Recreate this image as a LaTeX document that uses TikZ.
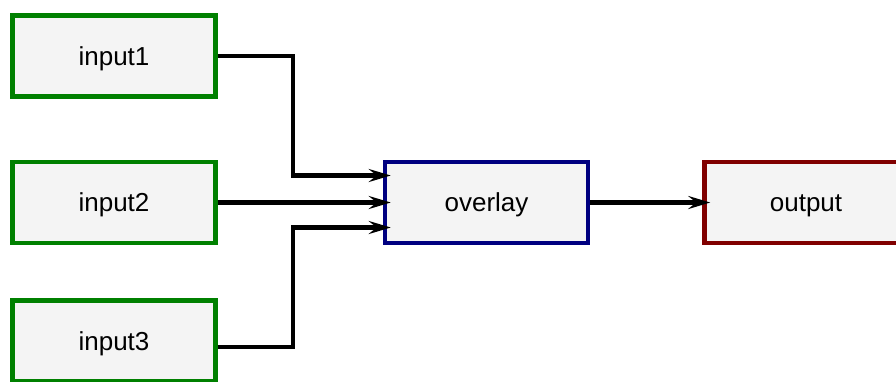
\documentclass[tikz,border=0pt]{standalone}
\usepackage{fontspec}
\setmainfont{Liberation Sans}
\usetikzlibrary{arrows.meta,calc}
\definecolor{boxfill}{HTML}{F4F4F4}
\definecolor{ingreen}{HTML}{008000}
\definecolor{ovblue}{HTML}{000080}
\definecolor{outred}{HTML}{800000}
\tikzset{
  blk/.style={draw, line width=4.5pt, fill=boxfill, minimum width=203pt, minimum height=81pt, inner sep=0pt, text height=18pt, text depth=0pt, font=\fontsize{26}{30}\selectfont},
  inbox/.style={blk, draw=ingreen},
  ovbox/.style={blk, draw=ovblue},
  outbox/.style={blk, draw=outred},
  conn/.style={line width=4.5pt, -{Stealth[length=22pt,width=13pt,inset=8pt]}, shorten >=-8pt}
}
\begin{document}
\begin{tikzpicture}[x=1pt,y=-1pt]
\useasboundingbox (0,0) rectangle (896,381);
\node[inbox] (input1) at (114,56) {input1};
\node[inbox] (input2) at (114,202.5) {input2};
\node[inbox] (input3) at (114,341) {input3};
\node[ovbox] (overlay) at (486.5,202.5) {overlay};
\node[outbox] (output) at (806,202.5) {output};
\coordinate (j1) at ($(input1.east)+(75,0)$);
\coordinate (j3) at ($(input3.east)+(75,6)$);
\draw[conn] (input1.east) -- (j1) |- ($(overlay.west)+(0,-27)$);
\draw[conn] (input2.east) -- (overlay.west);
\draw[conn] ($(input3.east)+(0,6)$) -- (j3) |- ($(overlay.west)+(0,25)$);
\draw[conn] (overlay.east) -- (output.west);
\end{tikzpicture}
\end{document}
